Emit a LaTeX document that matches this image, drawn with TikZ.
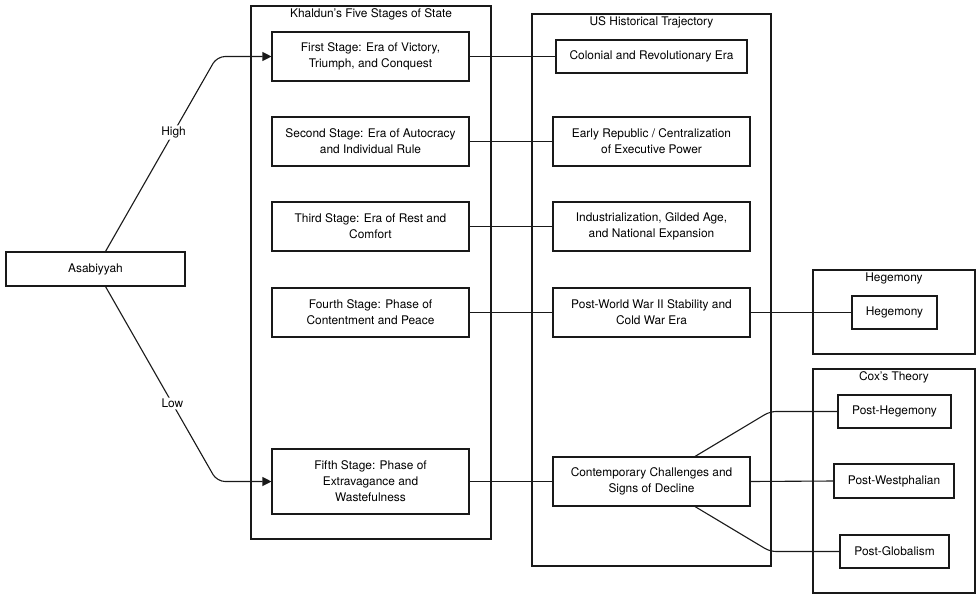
\documentclass[tikz,border=0pt]{standalone}
\usepackage{fontspec}
\setmainfont{TeX Gyre Heros}
\usetikzlibrary{arrows.meta}

\begin{document}
\begin{tikzpicture}[x=1pt, y=-1pt, >={Triangle[length=9pt,width=9pt]},
        line width=1.1pt, draw=black!90, font=\fontsize{11.9}{16}\selectfont,
        box/.style={draw=black!90, rectangle, align=center, inner sep=0pt},
        lbl/.style={fill=white, inner sep=1.5pt}]
    \useasboundingbox (0,0) rectangle (976,594);

    % The containers
    \draw (251,6) rectangle (491,539);
    \node (khaldun) at (371,14) {Khaldun's Five Stages of State};
    \draw (532,14) rectangle (771,566);
    \node (ustraj) at (651.5,22) {US Historical Trajectory};
    \draw (813,270) rectangle (975,354);
    \node (hegtitle) at (894,278) {Hegemony};
    \draw (813,369) rectangle (975,593);
    \node (coxtitle) at (894,377) {Cox's Theory};

    % Asabiyyah
    \node[box, minimum width=179pt, minimum height=34pt] (asab) at (95.5,269) {Asabiyyah};

    % Khaldun's stages
    \node[box, minimum width=197pt, minimum height=49pt] (first) at (370.5,56.5) {First Stage: Era of Victory,\\Triumph, and Conquest};
    \node[box, minimum width=197pt, minimum height=49pt] (second) at (370.5,141.5) {Second Stage: Era of Autocracy\\and Individual Rule};
    \node[box, minimum width=197pt, minimum height=49pt] (third) at (370.5,226.5) {Third Stage: Era of Rest and\\Comfort};
    \node[box, minimum width=197pt, minimum height=49pt] (fourth) at (370.5,312.5) {Fourth Stage: Phase of\\Contentment and Peace};
    \node[box, minimum width=197pt, minimum height=65pt] (fifth) at (370.5,481.5) {Fifth Stage: Phase of\\Extravagance and\\Wastefulness};

    % US trajectory
    \node[box, minimum width=191pt, minimum height=33pt] (colonial) at (651.5,56.5) {Colonial and Revolutionary Era};
    \node[box, minimum width=197pt, minimum height=49pt] (republic) at (651.5,141.5) {Early Republic / Centralization\\of Executive Power};
    \node[box, minimum width=197pt, minimum height=49pt] (industry) at (651.5,226.5) {Industrialization, Gilded Age,\\and National Expansion};
    \node[box, minimum width=197pt, minimum height=49pt] (postwar) at (651.5,312.5) {Post-World War II Stability and\\Cold War Era};
    \node[box, minimum width=197pt, minimum height=49pt] (contemp) at (651.5,481.5) {Contemporary Challenges and\\Signs of Decline};

    % Hegemony and Cox
    \node[box, minimum width=85pt, minimum height=33pt] (hegemony) at (894.5,312.5) {Hegemony};
    \node[box, minimum width=113pt, minimum height=33pt] (posthegemony) at (894.5,411.5) {Post-Hegemony};
    \node[box, minimum width=120pt, minimum height=34pt] (westphalian) at (894,481) {Post-Westphalian};
    \node[box, minimum width=109pt, minimum height=33pt] (globalism) at (894.5,551.5) {Post-Globalism};

    % bends
    \coordinate (highbend) at (217,56.5);
    \coordinate (lowbend) at (217,481.5);
    \coordinate (upbend) at (770,411.5);
    \coordinate (downbend) at (770,551.5);

    % Asabiyyah branches
    \draw[->, rounded corners=8pt] ([xshift=10pt]asab.north) -- node[lbl, pos=0.61] {High} (highbend) -- (first.west);
    \draw[->, rounded corners=8pt] ([xshift=10pt]asab.south) -- node[lbl, pos=0.6] {Low} (lowbend) -- (fifth.west);

    % stage to era
    \draw (first.east) -- (colonial.west);
    \draw (second.east) -- (republic.west);
    \draw (third.east) -- (industry.west);
    \draw (fourth.east) -- (postwar.west);
    \draw (fifth.east) -- (contemp.west);

    % era to theory
    \draw (postwar.east) -- (hegemony.west);
    \draw[rounded corners=6pt] ([xshift=43.5pt]contemp.north) -- (upbend) -- (posthegemony.west);
    \draw (contemp.east) -- (westphalian.west);
    \draw[rounded corners=6pt] ([xshift=43.5pt]contemp.south) -- (downbend) -- (globalism.west);
\end{tikzpicture}
\end{document}
